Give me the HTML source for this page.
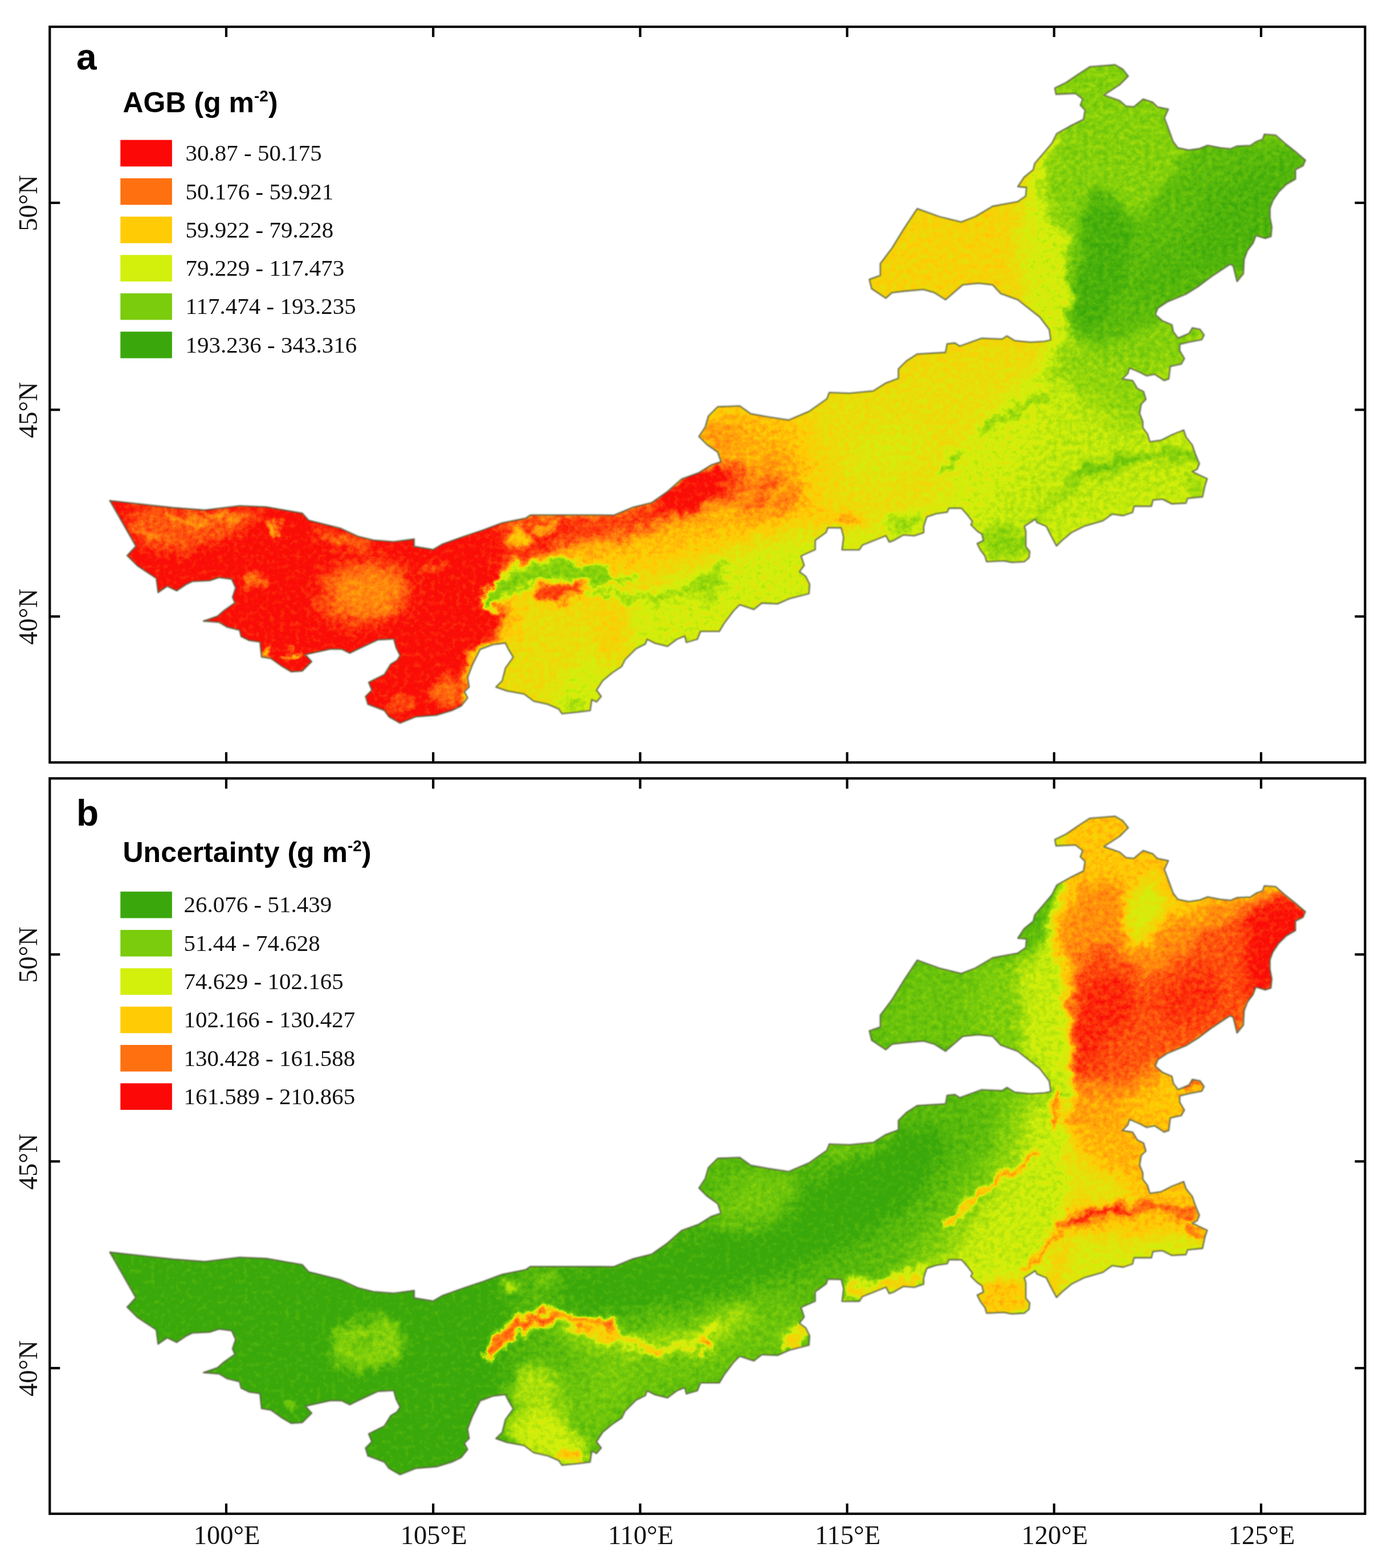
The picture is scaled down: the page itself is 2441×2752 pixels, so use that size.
<!DOCTYPE html>
<html lang="en"><head><meta charset="utf-8"><title>AGB and uncertainty maps</title>
<style>
html,body{margin:0;padding:0;background:#fff;}
body{width:2441px;height:2752px;overflow:hidden;}
svg{display:block;}
.ax{font-family:"Liberation Serif",serif;font-size:46.5px;fill:#111;}
.lg{font-family:"Liberation Serif",serif;font-size:41px;fill:#111;}
.lt{font-family:"Liberation Sans",sans-serif;font-weight:bold;font-size:50px;fill:#000;}
.sup{font-size:28px;}
.pl{font-family:"Liberation Sans",sans-serif;font-weight:bold;font-size:64px;fill:#000;}
</style></head><body>
<svg width="2441" height="2752" viewBox="0 0 2441 2752">
<defs>
<clipPath id="ca"><path d="M192.7,878.6 L304.4,891.0 L359.6,895.1 L420.3,887.7 L467.2,889.6 L530.6,900.7 L541.6,913.1 L596.8,926.9 L627.6,941.0 L655.2,947.9 L691.0,950.7 L726.9,946.0 L726.9,959.0 L760.0,964.5 L776.5,954.8 L815.0,941.0 L848.0,930.0 L881.3,917.6 L922.7,909.3 L931.0,903.8 L986.0,903.8 L1046.8,903.8 L1077.6,904.1 L1110.7,890.3 L1143.8,882.0 L1171.3,862.7 L1196.2,840.7 L1226.5,829.6 L1248.6,815.8 L1265.1,810.3 L1259.6,793.8 L1240.3,780.0 L1226.5,766.2 L1237.5,749.6 L1243.0,730.3 L1259.6,713.8 L1298.2,712.4 L1317.5,726.2 L1347.9,731.7 L1383.7,737.2 L1419.6,722.1 L1451.0,699.9 L1455.2,688.9 L1491.0,690.2 L1532.4,686.1 L1554.4,672.3 L1576.5,664.0 L1576.5,647.5 L1590.3,633.7 L1609.6,621.3 L1659.2,618.5 L1662.0,603.4 L1675.8,602.0 L1684.1,607.5 L1722.7,593.7 L1758.5,595.1 L1766.8,589.6 L1780.6,597.8 L1808.2,600.6 L1833.0,599.2 L1844.0,596.5 L1841.3,578.5 L1824.7,556.5 L1799.9,537.2 L1786.1,526.1 L1755.8,515.1 L1742.0,499.9 L1717.2,497.2 L1689.6,499.9 L1659.2,526.1 L1639.9,513.7 L1620.6,508.2 L1587.5,511.0 L1565.5,513.7 L1554.4,523.4 L1529.6,506.8 L1525.5,490.3 L1544.8,483.4 L1544.8,462.7 L1565.5,435.1 L1587.5,399.3 L1609.6,366.2 L1648.2,380.0 L1686.8,389.6 L1711.6,380.0 L1742.0,362.0 L1786.1,353.8 L1799.9,344.1 L1801.3,329.0 L1786.1,327.6 L1797.1,311.0 L1813.1,297.9 L1815.8,286.8 L1832.4,267.5 L1846.2,251.0 L1854.4,234.4 L1879.3,220.6 L1901.3,209.6 L1904.1,193.1 L1895.8,184.8 L1899.9,173.8 L1887.5,164.1 L1853.1,165.5 L1851.1,154.5 L1871.0,144.8 L1893.0,129.6 L1912.4,117.2 L1956.5,113.6 L1970.3,121.4 L1979.9,133.8 L1964.8,148.9 L1937.2,166.9 L1964.8,176.5 L1975.8,186.2 L1989.6,187.6 L2006.1,173.8 L2022.7,179.3 L2030.9,187.6 L2050.2,191.7 L2043.4,206.9 L2051.6,228.9 L2058.5,248.2 L2066.8,259.3 L2086.1,263.4 L2105.4,260.6 L2119.2,255.1 L2141.3,259.3 L2159.2,261.2 L2170.8,256.3 L2194.0,255.4 L2205.5,248.0 L2215.5,244.7 L2218.8,235.6 L2238.6,237.2 L2256.8,253.0 L2273.4,266.2 L2290.8,281.1 L2286.6,291.0 L2273.4,297.6 L2273.4,314.2 L2256.8,324.1 L2243.6,337.3 L2233.7,352.2 L2228.7,365.5 L2228.7,382.0 L2232.0,398.6 L2230.4,415.1 L2220.4,418.4 L2203.9,413.5 L2198.9,426.7 L2189.0,439.9 L2183.3,455.0 L2182.0,480.3 L2170.9,494.1 L2164.0,466.5 L2158.5,463.8 L2125.4,485.9 L2103.4,502.4 L2081.3,516.2 L2048.2,530.0 L2031.7,541.0 L2027.5,552.0 L2039.9,563.1 L2056.5,570.0 L2059.2,582.4 L2067.5,593.4 L2086.8,585.1 L2092.3,575.5 L2106.1,578.2 L2113.0,587.9 L2108.9,596.2 L2086.8,600.3 L2070.3,604.4 L2070.3,615.5 L2078.5,629.3 L2073.0,638.9 L2053.7,643.1 L2051.0,665.1 L2042.7,667.9 L2026.1,656.8 L2012.4,659.6 L1998.6,652.7 L1982.0,645.8 L1979.3,655.5 L1969.6,665.1 L1987.5,667.9 L1995.8,681.7 L2006.8,687.2 L2011.0,701.0 L2002.7,709.2 L1999.9,725.8 L2005.5,739.6 L2005.5,750.6 L2013.7,761.6 L2017.9,775.4 L2037.2,772.7 L2056.5,763.0 L2077.2,754.7 L2081.3,767.2 L2092.3,780.9 L2097.9,797.5 L2104.7,814.0 L2100.6,823.7 L2092.3,827.8 L2118.5,840.2 L2114.4,852.7 L2110.3,872.0 L2084.1,874.7 L2081.3,883.0 L2056.5,884.4 L2039.9,876.1 L2023.4,877.5 L2020.6,888.5 L1990.3,888.5 L1987.5,899.5 L1971.0,905.0 L1951.7,902.3 L1935.4,914.1 L1902.3,923.7 L1880.2,934.8 L1863.7,948.6 L1854.0,958.2 L1844.4,940.3 L1836.1,923.7 L1819.6,916.9 L1816.8,911.3 L1797.5,923.7 L1800.2,932.0 L1800.2,959.6 L1807.1,967.9 L1805.8,978.9 L1797.5,985.8 L1775.4,987.2 L1761.6,984.4 L1731.3,985.8 L1728.5,976.1 L1720.3,965.1 L1714.8,954.1 L1725.8,948.6 L1723.0,937.5 L1714.8,932.0 L1703.7,921.0 L1706.5,915.5 L1698.2,904.4 L1687.2,892.0 L1665.1,892.0 L1662.4,898.9 L1643.1,901.7 L1626.5,907.2 L1621.0,923.7 L1621.0,934.8 L1604.4,940.3 L1585.1,938.9 L1568.6,948.6 L1560.3,951.3 L1554.8,940.3 L1541.0,945.8 L1513.4,956.8 L1507.9,965.1 L1477.6,965.1 L1480.3,943.0 L1476.2,926.5 L1452.7,926.1 L1449.9,934.4 L1430.6,948.2 L1430.6,964.8 L1405.8,975.8 L1411.3,992.3 L1403.0,1003.4 L1414.0,1011.6 L1420.9,1025.4 L1419.6,1042.0 L1386.5,1050.3 L1364.4,1059.9 L1336.8,1058.5 L1323.0,1069.6 L1298.2,1061.3 L1287.2,1072.3 L1270.6,1094.4 L1262.4,1108.2 L1229.3,1108.2 L1223.7,1122.0 L1204.4,1127.5 L1201.7,1116.4 L1187.9,1122.0 L1171.3,1134.4 L1149.3,1128.9 L1135.5,1122.0 L1132.7,1130.2 L1116.2,1138.5 L1096.9,1157.8 L1090.9,1169.9 L1074.4,1180.9 L1057.8,1194.7 L1046.8,1211.3 L1055.0,1222.3 L1046.8,1232.0 L1038.5,1227.8 L1035.7,1247.1 L1013.7,1249.9 L986.1,1252.6 L980.6,1244.4 L961.3,1236.1 L936.5,1230.6 L919.9,1218.2 L889.6,1212.7 L870.3,1205.8 L881.3,1194.7 L886.8,1172.7 L900.6,1153.4 L892.3,1139.6 L886.8,1128.5 L864.7,1131.3 L842.7,1139.6 L837.2,1150.6 L828.9,1167.2 L820.6,1189.2 L823.4,1205.8 L815.1,1214.0 L820.6,1225.1 L809.6,1238.9 L793.0,1247.1 L765.5,1255.4 L729.6,1258.2 L702.0,1269.2 L682.7,1258.2 L674.5,1247.1 L645.5,1236.1 L641.4,1222.3 L652.4,1211.3 L646.9,1197.5 L674.5,1183.7 L685.5,1165.8 L696.5,1158.9 L702.0,1150.6 L695.0,1136.8 L691.0,1121.6 L663.4,1123.0 L627.6,1139.6 L613.8,1146.5 L600.0,1139.6 L580.2,1139.2 L536.1,1148.9 L547.1,1161.3 L530.6,1177.8 L511.3,1179.2 L494.7,1169.6 L475.4,1155.8 L458.9,1153.0 L456.1,1126.8 L436.8,1124.0 L423.0,1117.2 L420.3,1106.1 L398.2,1100.6 L384.4,1092.3 L356.8,1090.0 L381.7,1081.3 L392.7,1071.7 L412.0,1057.9 L407.9,1048.2 L413.4,1031.7 L406.5,1016.5 L384.4,1013.7 L367.9,1019.2 L337.5,1020.6 L326.5,1026.0 L310.0,1037.0 L293.4,1029.0 L277.4,1040.0 L274.1,1015.1 L241.0,993.0 L223.1,975.1 L238.3,958.6Z"/></clipPath>
<clipPath id="cb"><path d="M192.7,2197.6 L304.4,2210.0 L359.6,2214.1 L420.3,2206.7 L467.2,2208.6 L530.6,2219.7 L541.6,2232.1 L596.8,2245.9 L627.6,2260.0 L655.2,2266.9 L691.0,2269.7 L726.9,2265.0 L726.9,2278.0 L760.0,2283.5 L776.5,2273.8 L815.0,2260.0 L848.0,2249.0 L881.3,2236.6 L922.7,2228.3 L931.0,2222.8 L986.0,2222.8 L1046.8,2222.8 L1077.6,2223.1 L1110.7,2209.3 L1143.8,2201.0 L1171.3,2181.7 L1196.2,2159.7 L1226.5,2148.6 L1248.6,2134.8 L1265.1,2129.3 L1259.6,2112.8 L1240.3,2099.0 L1226.5,2085.2 L1237.5,2068.6 L1243.0,2049.3 L1259.6,2032.8 L1298.2,2031.4 L1317.5,2045.2 L1347.9,2050.7 L1383.7,2056.2 L1419.6,2041.1 L1451.0,2018.9 L1455.2,2007.9 L1491.0,2009.2 L1532.4,2005.1 L1554.4,1991.3 L1576.5,1983.0 L1576.5,1966.5 L1590.3,1952.7 L1609.6,1940.3 L1659.2,1937.5 L1662.0,1922.4 L1675.8,1921.0 L1684.1,1926.5 L1722.7,1912.7 L1758.5,1914.1 L1766.8,1908.6 L1780.6,1916.8 L1808.2,1919.6 L1833.0,1918.2 L1844.0,1915.5 L1841.3,1897.5 L1824.7,1875.5 L1799.9,1856.2 L1786.1,1845.1 L1755.8,1834.1 L1742.0,1818.9 L1717.2,1816.2 L1689.6,1818.9 L1659.2,1845.1 L1639.9,1832.7 L1620.6,1827.2 L1587.5,1830.0 L1565.5,1832.7 L1554.4,1842.4 L1529.6,1825.8 L1525.5,1809.3 L1544.8,1802.4 L1544.8,1781.7 L1565.5,1754.1 L1587.5,1718.3 L1609.6,1685.2 L1648.2,1699.0 L1686.8,1708.6 L1711.6,1699.0 L1742.0,1681.0 L1786.1,1672.8 L1799.9,1663.1 L1801.3,1648.0 L1786.1,1646.6 L1797.1,1630.0 L1813.1,1616.9 L1815.8,1605.8 L1832.4,1586.5 L1846.2,1570.0 L1854.4,1553.4 L1879.3,1539.6 L1901.3,1528.6 L1904.1,1512.1 L1895.8,1503.8 L1899.9,1492.8 L1887.5,1483.1 L1853.1,1484.5 L1851.1,1473.5 L1871.0,1463.8 L1893.0,1448.6 L1912.4,1436.2 L1956.5,1432.6 L1970.3,1440.4 L1979.9,1452.8 L1964.8,1467.9 L1937.2,1485.9 L1964.8,1495.5 L1975.8,1505.2 L1989.6,1506.6 L2006.1,1492.8 L2022.7,1498.3 L2030.9,1506.6 L2050.2,1510.7 L2043.4,1525.9 L2051.6,1547.9 L2058.5,1567.2 L2066.8,1578.3 L2086.1,1582.4 L2105.4,1579.6 L2119.2,1574.1 L2141.3,1578.3 L2159.2,1580.2 L2170.8,1575.3 L2194.0,1574.4 L2205.5,1567.0 L2215.5,1563.7 L2218.8,1554.6 L2238.6,1556.2 L2256.8,1572.0 L2273.4,1585.2 L2290.8,1600.1 L2286.6,1610.0 L2273.4,1616.6 L2273.4,1633.2 L2256.8,1643.1 L2243.6,1656.3 L2233.7,1671.2 L2228.7,1684.5 L2228.7,1701.0 L2232.0,1717.6 L2230.4,1734.1 L2220.4,1737.4 L2203.9,1732.5 L2198.9,1745.7 L2189.0,1758.9 L2183.3,1774.0 L2182.0,1799.3 L2170.9,1813.1 L2164.0,1785.5 L2158.5,1782.8 L2125.4,1804.9 L2103.4,1821.4 L2081.3,1835.2 L2048.2,1849.0 L2031.7,1860.0 L2027.5,1871.0 L2039.9,1882.1 L2056.5,1889.0 L2059.2,1901.4 L2067.5,1912.4 L2086.8,1904.1 L2092.3,1894.5 L2106.1,1897.2 L2113.0,1906.9 L2108.9,1915.2 L2086.8,1919.3 L2070.3,1923.4 L2070.3,1934.5 L2078.5,1948.3 L2073.0,1957.9 L2053.7,1962.1 L2051.0,1984.1 L2042.7,1986.9 L2026.1,1975.8 L2012.4,1978.6 L1998.6,1971.7 L1982.0,1964.8 L1979.3,1974.5 L1969.6,1984.1 L1987.5,1986.9 L1995.8,2000.7 L2006.8,2006.2 L2011.0,2020.0 L2002.7,2028.2 L1999.9,2044.8 L2005.5,2058.6 L2005.5,2069.6 L2013.7,2080.6 L2017.9,2094.4 L2037.2,2091.7 L2056.5,2082.0 L2077.2,2073.7 L2081.3,2086.2 L2092.3,2099.9 L2097.9,2116.5 L2104.7,2133.0 L2100.6,2142.7 L2092.3,2146.8 L2118.5,2159.2 L2114.4,2171.7 L2110.3,2191.0 L2084.1,2193.7 L2081.3,2202.0 L2056.5,2203.4 L2039.9,2195.1 L2023.4,2196.5 L2020.6,2207.5 L1990.3,2207.5 L1987.5,2218.5 L1971.0,2224.0 L1951.7,2221.3 L1935.4,2233.1 L1902.3,2242.7 L1880.2,2253.8 L1863.7,2267.6 L1854.0,2277.2 L1844.4,2259.3 L1836.1,2242.7 L1819.6,2235.9 L1816.8,2230.3 L1797.5,2242.7 L1800.2,2251.0 L1800.2,2278.6 L1807.1,2286.9 L1805.8,2297.9 L1797.5,2304.8 L1775.4,2306.2 L1761.6,2303.4 L1731.3,2304.8 L1728.5,2295.1 L1720.3,2284.1 L1714.8,2273.1 L1725.8,2267.6 L1723.0,2256.5 L1714.8,2251.0 L1703.7,2240.0 L1706.5,2234.5 L1698.2,2223.4 L1687.2,2211.0 L1665.1,2211.0 L1662.4,2217.9 L1643.1,2220.7 L1626.5,2226.2 L1621.0,2242.7 L1621.0,2253.8 L1604.4,2259.3 L1585.1,2257.9 L1568.6,2267.6 L1560.3,2270.3 L1554.8,2259.3 L1541.0,2264.8 L1513.4,2275.8 L1507.9,2284.1 L1477.6,2284.1 L1480.3,2262.0 L1476.2,2245.5 L1452.7,2245.1 L1449.9,2253.4 L1430.6,2267.2 L1430.6,2283.8 L1405.8,2294.8 L1411.3,2311.3 L1403.0,2322.4 L1414.0,2330.6 L1420.9,2344.4 L1419.6,2361.0 L1386.5,2369.3 L1364.4,2378.9 L1336.8,2377.5 L1323.0,2388.6 L1298.2,2380.3 L1287.2,2391.3 L1270.6,2413.4 L1262.4,2427.2 L1229.3,2427.2 L1223.7,2441.0 L1204.4,2446.5 L1201.7,2435.4 L1187.9,2441.0 L1171.3,2453.4 L1149.3,2447.9 L1135.5,2441.0 L1132.7,2449.2 L1116.2,2457.5 L1096.9,2476.8 L1090.9,2488.9 L1074.4,2499.9 L1057.8,2513.7 L1046.8,2530.3 L1055.0,2541.3 L1046.8,2551.0 L1038.5,2546.8 L1035.7,2566.1 L1013.7,2568.9 L986.1,2571.6 L980.6,2563.4 L961.3,2555.1 L936.5,2549.6 L919.9,2537.2 L889.6,2531.7 L870.3,2524.8 L881.3,2513.7 L886.8,2491.7 L900.6,2472.4 L892.3,2458.6 L886.8,2447.5 L864.7,2450.3 L842.7,2458.6 L837.2,2469.6 L828.9,2486.2 L820.6,2508.2 L823.4,2524.8 L815.1,2533.0 L820.6,2544.1 L809.6,2557.9 L793.0,2566.1 L765.5,2574.4 L729.6,2577.2 L702.0,2588.2 L682.7,2577.2 L674.5,2566.1 L645.5,2555.1 L641.4,2541.3 L652.4,2530.3 L646.9,2516.5 L674.5,2502.7 L685.5,2484.8 L696.5,2477.9 L702.0,2469.6 L695.0,2455.8 L691.0,2440.6 L663.4,2442.0 L627.6,2458.6 L613.8,2465.5 L600.0,2458.6 L580.2,2458.2 L536.1,2467.9 L547.1,2480.3 L530.6,2496.8 L511.3,2498.2 L494.7,2488.6 L475.4,2474.8 L458.9,2472.0 L456.1,2445.8 L436.8,2443.0 L423.0,2436.2 L420.3,2425.1 L398.2,2419.6 L384.4,2411.3 L356.8,2409.0 L381.7,2400.3 L392.7,2390.7 L412.0,2376.9 L407.9,2367.2 L413.4,2350.7 L406.5,2335.5 L384.4,2332.7 L367.9,2338.2 L337.5,2339.6 L326.5,2345.0 L310.0,2356.0 L293.4,2348.0 L277.4,2359.0 L274.1,2334.1 L241.0,2312.0 L223.1,2294.1 L238.3,2277.6Z"/></clipPath>

<filter id="b2" x="-50%" y="-50%" width="200%" height="200%"><feGaussianBlur stdDeviation="2"/></filter>
<filter id="b3" x="-50%" y="-50%" width="200%" height="200%"><feGaussianBlur stdDeviation="3"/></filter>
<filter id="b4" x="-50%" y="-50%" width="200%" height="200%"><feGaussianBlur stdDeviation="4"/></filter>
<filter id="b5" x="-50%" y="-50%" width="200%" height="200%"><feGaussianBlur stdDeviation="5"/></filter>
<filter id="b6" x="-50%" y="-50%" width="200%" height="200%"><feGaussianBlur stdDeviation="6"/></filter>
<filter id="b7" x="-50%" y="-50%" width="200%" height="200%"><feGaussianBlur stdDeviation="7"/></filter>
<filter id="b8" x="-50%" y="-50%" width="200%" height="200%"><feGaussianBlur stdDeviation="8"/></filter>
<filter id="b9" x="-50%" y="-50%" width="200%" height="200%"><feGaussianBlur stdDeviation="9"/></filter>
<filter id="b10" x="-50%" y="-50%" width="200%" height="200%"><feGaussianBlur stdDeviation="10"/></filter>
<filter id="b12" x="-50%" y="-50%" width="200%" height="200%"><feGaussianBlur stdDeviation="12"/></filter>
<filter id="b14" x="-50%" y="-50%" width="200%" height="200%"><feGaussianBlur stdDeviation="14"/></filter>
<filter id="b16" x="-50%" y="-50%" width="200%" height="200%"><feGaussianBlur stdDeviation="16"/></filter>
<filter id="b18" x="-50%" y="-50%" width="200%" height="200%"><feGaussianBlur stdDeviation="18"/></filter>
<filter id="b20" x="-50%" y="-50%" width="200%" height="200%"><feGaussianBlur stdDeviation="20"/></filter>
<filter id="b25" x="-50%" y="-50%" width="200%" height="200%"><feGaussianBlur stdDeviation="25"/></filter>
<filter id="texa" filterUnits="userSpaceOnUse" x="140" y="60" width="2210" height="1260" color-interpolation-filters="sRGB">
<feTurbulence type="fractalNoise" baseFrequency="0.035" numOctaves="4" seed="7" result="n"/>
<feDisplacementMap in="SourceGraphic" in2="n" scale="38" xChannelSelector="R" yChannelSelector="G" result="d1"/>
<feTurbulence type="fractalNoise" baseFrequency="0.11" numOctaves="3" seed="11" result="n2"/>
<feColorMatrix in="n2" type="matrix" values="1 0 0 0 0  1 0 0 0 0  1 0 0 0 0  0 0 0 0 1" result="g2"/>
<feComposite in="d1" in2="g2" operator="arithmetic" k1="0" k2="1" k3="0.21" k4="-0.105" result="v"/>
<feComponentTransfer in="v">
<feFuncR type="table" tableValues="0.984 1.000 1.000 0.824 0.478 0.227"/>
<feFuncG type="table" tableValues="0.051 0.455 0.796 0.941 0.800 0.659"/>
<feFuncB type="table" tableValues="0.031 0.063 0.020 0.047 0.047 0.047"/>
<feFuncA type="linear" slope="0" intercept="1"/>
</feComponentTransfer>
</filter>
<filter id="texb" filterUnits="userSpaceOnUse" x="140" y="1379" width="2210" height="1260" color-interpolation-filters="sRGB">
<feTurbulence type="fractalNoise" baseFrequency="0.035" numOctaves="4" seed="7" result="n"/>
<feDisplacementMap in="SourceGraphic" in2="n" scale="38" xChannelSelector="R" yChannelSelector="G" result="d1"/>
<feTurbulence type="fractalNoise" baseFrequency="0.11" numOctaves="3" seed="11" result="n2"/>
<feColorMatrix in="n2" type="matrix" values="1 0 0 0 0  1 0 0 0 0  1 0 0 0 0  0 0 0 0 1" result="g2"/>
<feComposite in="d1" in2="g2" operator="arithmetic" k1="0" k2="1" k3="0.21" k4="-0.105" result="v"/>
<feComponentTransfer in="v">
<feFuncR type="table" tableValues="0.984 1.000 1.000 0.824 0.478 0.227"/>
<feFuncG type="table" tableValues="0.051 0.455 0.796 0.941 0.800 0.659"/>
<feFuncB type="table" tableValues="0.031 0.063 0.020 0.047 0.047 0.047"/>
<feFuncA type="linear" slope="0" intercept="1"/>
</feComponentTransfer>
</filter>
<filter id="b0"><feOffset dx="0" dy="0"/></filter>
<filter id="edge" x="-5%" y="-5%" width="110%" height="110%"><feGaussianBlur stdDeviation="0.9"/></filter>
</defs>
<rect width="100%" height="100%" fill="#fff"/>

<g clip-path="url(#ca)"><g filter="url(#texa)"><rect x="100" y="50" width="2300" height="1290" fill="rgb(0,0,0)"/>
<path d="M885,900 L880,1000 L888,1090 L855,1140 L815,1215 L810,1300 L2400,1300 L2400,50 L1200,50 L1200,700 L1100,880Z" fill="rgb(114,114,114)" opacity="1" filter="url(#b10)"/>
<path d="M880,900 L1100,880 L1230,760 L1300,700 L1420,720 L1470,800 L1460,900 L1380,930 L1250,950 L1120,985 L1000,990 L885,990Z" fill="rgb(86,86,86)" opacity="0.75" filter="url(#b20)"/>
<path d="M985,1300 L1000,1200 L1040,1120 L1100,1060 L1180,1010 L1300,965 L1400,935 L1470,940 L1540,925 L1600,905 L1650,875 L1672,810 L1720,745 L1780,680 L1835,615 L1800,560 L1785,430 L1800,300 L1850,60 L2400,60 L2400,1300Z" fill="rgb(151,151,151)" opacity="1" filter="url(#b18)"/>
<path d="M1825,340 L1860,230 L1830,60 L2400,60 L2400,600 L2120,570 L2080,640 L2000,650 L1930,640 L1890,615 L1880,540 L1878,440 L1850,380Z" fill="rgb(198,198,198)" opacity="1" filter="url(#b10)"/>
<path d="M1880,600 L1980,620 L2060,640 L2060,700 L2000,760 L1950,740 L1900,700 L1860,650Z" fill="rgb(198,198,198)" opacity="0.8" filter="url(#b20)"/>
<path d="M1905,335 L1950,335 L1995,385 L2035,340 L2075,280 L2100,250 L2300,250 L2300,330 L2240,420 L2190,480 L2100,520 L2030,560 L1990,590 L1920,600 L1885,592 L1880,540 L1888,470 L1895,400Z" fill="rgb(227,227,227)" opacity="1" filter="url(#b8)"/>
<path d="M1920,345 L1960,360 L1990,410 L1975,490 L1950,550 L1905,585 L1886,572 L1886,510 L1898,430Z" fill="rgb(243,243,243)" opacity="1" filter="url(#b9)"/>
<path d="M2120,340 L2200,285 L2290,275 L2255,350 L2235,420 L2190,460 L2120,480 L2080,440Z" fill="rgb(243,243,243)" opacity="0.75" filter="url(#b16)"/>
<path d="M1990,480 L2060,420 L2120,420 L2100,490 L2040,530 L1990,540Z" fill="rgb(243,243,243)" opacity="0.5" filter="url(#b16)"/>
<ellipse cx="640" cy="1040" rx="82" ry="54" transform="rotate(-8 640 1040)" fill="rgb(49,49,49)" opacity="1" filter="url(#b18)"/>
<ellipse cx="645" cy="1036" rx="56" ry="36" transform="rotate(-8 645 1036)" fill="rgb(65,65,65)" opacity="1" filter="url(#b12)"/>
<path d="M215,890 L330,893 L420,890 L470,895 L440,925 L380,950 L300,970 L245,955Z" fill="rgb(64,64,64)" opacity="0.6" filter="url(#b12)"/>
<ellipse cx="330" cy="915" rx="40" ry="6" transform="rotate(15 330 915)" fill="rgb(114,114,114)" opacity="0.5" filter="url(#b4)"/>
<ellipse cx="260" cy="935" rx="25" ry="5" transform="rotate(30 260 935)" fill="rgb(114,114,114)" opacity="0.5" filter="url(#b4)"/>
<ellipse cx="390" cy="905" rx="30" ry="5" transform="rotate(10 390 905)" fill="rgb(114,114,114)" opacity="0.5" filter="url(#b4)"/>
<ellipse cx="600" cy="948" rx="50" ry="14" transform="rotate(12 600 948)" fill="rgb(64,64,64)" opacity="0.7" filter="url(#b8)"/>
<ellipse cx="482" cy="930" rx="7" ry="16" transform="rotate(10 482 930)" fill="rgb(114,114,114)" opacity="0.8" filter="url(#b4)"/>
<ellipse cx="444" cy="1018" rx="20" ry="11" transform="rotate(0 444 1018)" fill="rgb(64,64,64)" opacity="0.8" filter="url(#b5)"/>
<ellipse cx="758" cy="996" rx="24" ry="8" transform="rotate(-10 758 996)" fill="rgb(64,64,64)" opacity="0.6" filter="url(#b5)"/>
<ellipse cx="467" cy="1149" rx="7" ry="8" transform="rotate(0 467 1149)" fill="rgb(114,114,114)" opacity="0.8" filter="url(#b3)"/>
<ellipse cx="512" cy="1150" rx="10" ry="7" transform="rotate(0 512 1150)" fill="rgb(114,114,114)" opacity="0.8" filter="url(#b3)"/>
<ellipse cx="700" cy="1235" rx="25" ry="12" transform="rotate(-20 700 1235)" fill="rgb(64,64,64)" opacity="0.5" filter="url(#b6)"/>
<ellipse cx="780" cy="1215" rx="18" ry="22" transform="rotate(0 780 1215)" fill="rgb(64,64,64)" opacity="0.5" filter="url(#b6)"/>
<path d="M845,1140 L865,1132 L850,1165 L835,1195 L825,1190 L832,1165Z" fill="rgb(151,151,151)" opacity="0.9" filter="url(#b4)"/>
<path d="M860,925 L930,903 L1050,903 L1110,889 L1110,930 L1050,950 L980,960 L930,985 L880,1000 L860,990Z" fill="rgb(3,3,3)" opacity="0.85" filter="url(#b10)"/>
<ellipse cx="910" cy="943" rx="22" ry="18" transform="rotate(-30 910 943)" fill="rgb(114,114,114)" opacity="0.9" filter="url(#b6)"/>
<ellipse cx="960" cy="925" rx="25" ry="9" transform="rotate(-15 960 925)" fill="rgb(114,114,114)" opacity="0.7" filter="url(#b5)"/>
<ellipse cx="1020" cy="960" rx="40" ry="16" transform="rotate(-10 1020 960)" fill="rgb(86,86,86)" opacity="0.8" filter="url(#b8)"/>
<path d="M1050,900 L1111,886 L1171,858 L1226,826 L1262,808 L1300,815 L1340,840 L1330,870 L1280,890 L1230,910 L1174,925 L1120,940 L1050,955 L1000,960Z" fill="rgb(64,64,64)" opacity="0.9" filter="url(#b12)"/>
<path d="M1050,907 L1078,905 L1111,892 L1144,883 L1171,864 L1196,842 L1226,831 L1249,817 L1271,816 L1298,830 L1304,849 L1271,865 L1243,879 L1215,899 L1174,910 L1133,921 L1091,932 L1050,943 L1000,950 L1000,915Z" fill="rgb(22,22,22)" opacity="1" filter="url(#b8)"/>
<path d="M1150,880 L1171,864 L1196,842 L1226,831 L1249,817 L1271,816 L1295,832 L1290,852 L1262,866 L1235,880 L1205,898 L1170,905Z" fill="rgb(3,3,3)" opacity="1" filter="url(#b7)"/>
<ellipse cx="1350" cy="850" rx="85" ry="55" transform="rotate(-25 1350 850)" fill="rgb(64,64,64)" opacity="0.6" filter="url(#b14)"/>
<ellipse cx="1290" cy="850" rx="30" ry="16" transform="rotate(-30 1290 850)" fill="rgb(30,30,30)" opacity="0.7" filter="url(#b6)"/>
<ellipse cx="1330" cy="885" rx="22" ry="10" transform="rotate(-30 1330 885)" fill="rgb(30,30,30)" opacity="0.7" filter="url(#b5)"/>
<ellipse cx="1400" cy="850" rx="20" ry="9" transform="rotate(-30 1400 850)" fill="rgb(30,30,30)" opacity="0.6" filter="url(#b5)"/>
<ellipse cx="1260" cy="760" rx="22" ry="30" transform="rotate(10 1260 760)" fill="rgb(64,64,64)" opacity="0.6" filter="url(#b8)"/>
<ellipse cx="1345" cy="850" rx="22" ry="14" transform="rotate(-30 1345 850)" fill="rgb(22,22,22)" opacity="0.7" filter="url(#b6)"/>
<ellipse cx="1385" cy="880" rx="18" ry="10" transform="rotate(-30 1385 880)" fill="rgb(22,22,22)" opacity="0.6" filter="url(#b6)"/>
<ellipse cx="1290" cy="770" rx="30" ry="22" transform="rotate(0 1290 770)" fill="rgb(64,64,64)" opacity="0.5" filter="url(#b10)"/>
<ellipse cx="1485" cy="908" rx="30" ry="14" transform="rotate(10 1485 908)" fill="rgb(51,51,51)" opacity="0.9" filter="url(#b6)"/>
<ellipse cx="1430" cy="890" rx="30" ry="14" transform="rotate(20 1430 890)" fill="rgb(64,64,64)" opacity="0.5" filter="url(#b8)"/>
<path d="M862,1052 L882,1032 L908,1016 L940,1005 L985,1002 L1030,1005 L1060,1010" fill="none" stroke="rgb(198,198,198)" stroke-width="34" stroke-linecap="round" stroke-linejoin="round" opacity="1" filter="url(#b5)"/>
<path d="M1030,1035 L1065,1040 L1100,1048" fill="none" stroke="rgb(198,198,198)" stroke-width="12" stroke-linecap="round" stroke-linejoin="round" opacity="0.9" filter="url(#b5)"/>
<path d="M935,1034 L965,1025 L1000,1023 L1030,1030 L1025,1048 L980,1054 L945,1054Z" fill="rgb(17,17,17)" opacity="0.9" filter="url(#b6)"/>
<ellipse cx="905" cy="1095" rx="18" ry="30" transform="rotate(0 905 1095)" fill="rgb(64,64,64)" opacity="0.7" filter="url(#b8)"/>
<path d="M900,1060 L1000,1060 L1060,1080 L1100,1160 L1060,1260 L900,1260 L870,1200Z" fill="rgb(151,151,151)" opacity="0.35" filter="url(#b16)"/>
<path d="M960,1260 L980,1190 L1060,1150 L1110,1150 L1100,1200 L1060,1260Z" fill="rgb(151,151,151)" opacity="0.8" filter="url(#b14)"/>
<path d="M815,1140 L840,1141 L838,1170 L826,1200 L812,1200Z" fill="rgb(114,114,114)" opacity="0.8" filter="url(#b4)"/>
<ellipse cx="790" cy="1215" rx="22" ry="32" transform="rotate(10 790 1215)" fill="rgb(64,64,64)" opacity="0.5" filter="url(#b8)"/>
<ellipse cx="1000" cy="1240" rx="30" ry="12" transform="rotate(0 1000 1240)" fill="rgb(198,198,198)" opacity="0.6" filter="url(#b8)"/>
<path d="M1050,1005 L1075,1015 L1110,1020" fill="none" stroke="rgb(198,198,198)" stroke-width="14" stroke-linecap="round" stroke-linejoin="round" opacity="0.8" filter="url(#b5)"/>
<path d="M1100,1050 L1150,1050 L1200,1040 L1240,1020 L1265,995" fill="none" stroke="rgb(198,198,198)" stroke-width="16" stroke-linecap="round" stroke-linejoin="round" opacity="0.7" filter="url(#b6)"/>
<ellipse cx="1245" cy="1030" rx="22" ry="30" transform="rotate(20 1245 1030)" fill="rgb(198,198,198)" opacity="0.6" filter="url(#b8)"/>
<ellipse cx="1075" cy="1120" rx="30" ry="50" transform="rotate(20 1075 1120)" fill="rgb(86,86,86)" opacity="0.6" filter="url(#b14)"/>
<path d="M1400,700 L1600,640 L1800,600 L1800,700 L1700,800 L1640,900 L1500,930 L1400,900Z" fill="rgb(151,151,151)" opacity="0.4" filter="url(#b25)"/>
<ellipse cx="1560" cy="795" rx="75" ry="45" transform="rotate(-25 1560 795)" fill="rgb(151,151,151)" opacity="0.55" filter="url(#b16)"/>
<ellipse cx="1640" cy="560" rx="20" ry="25" transform="rotate(0 1640 560)" fill="rgb(151,151,151)" opacity="0.5" filter="url(#b10)"/>
<path d="M1850,620 L1960,640 L2050,640 L2070,700 L2100,800 L2110,870 L2000,900 L1900,930 L1850,960 L1800,990 L1720,990 L1700,920 L1760,860 L1820,780 L1840,700Z" fill="rgb(198,198,198)" opacity="0.28" filter="url(#b25)"/>
<path d="M1880,838 L1930,822 L1990,806 L2050,798 L2096,795" fill="none" stroke="rgb(198,198,198)" stroke-width="26" stroke-linecap="round" stroke-linejoin="round" opacity="0.9" filter="url(#b6)"/>
<path d="M1900,830 L1950,815 L2000,805" fill="none" stroke="rgb(227,227,227)" stroke-width="8" stroke-linecap="round" stroke-linejoin="round" opacity="0.7" filter="url(#b3)"/>
<path d="M1715,755 L1760,730 L1800,712 L1838,696" fill="none" stroke="rgb(198,198,198)" stroke-width="14" stroke-linecap="round" stroke-linejoin="round" opacity="0.8" filter="url(#b5)"/>
<path d="M1649,828 L1665,810 L1682,795" fill="none" stroke="rgb(198,198,198)" stroke-width="18" stroke-linecap="round" stroke-linejoin="round" opacity="0.8" filter="url(#b5)"/>
<path d="M1815,911 L1850,880 L1897,845" fill="none" stroke="rgb(198,198,198)" stroke-width="14" stroke-linecap="round" stroke-linejoin="round" opacity="0.7" filter="url(#b5)"/>
<ellipse cx="1762" cy="955" rx="42" ry="30" transform="rotate(0 1762 955)" fill="rgb(198,198,198)" opacity="0.9" filter="url(#b10)"/>
<ellipse cx="1585" cy="918" rx="34" ry="20" transform="rotate(-20 1585 918)" fill="rgb(198,198,198)" opacity="0.7" filter="url(#b8)"/>
<ellipse cx="1665" cy="905" rx="10" ry="10" transform="rotate(0 1665 905)" fill="rgb(198,198,198)" opacity="0.7" filter="url(#b5)"/>
<ellipse cx="2100" cy="850" rx="18" ry="22" transform="rotate(0 2100 850)" fill="rgb(198,198,198)" opacity="0.6" filter="url(#b8)"/>
<ellipse cx="1870" cy="640" rx="40" ry="25" transform="rotate(-30 1870 640)" fill="rgb(198,198,198)" opacity="0.6" filter="url(#b10)"/>
</g></g>
<path d="M192.7,878.6 L304.4,891.0 L359.6,895.1 L420.3,887.7 L467.2,889.6 L530.6,900.7 L541.6,913.1 L596.8,926.9 L627.6,941.0 L655.2,947.9 L691.0,950.7 L726.9,946.0 L726.9,959.0 L760.0,964.5 L776.5,954.8 L815.0,941.0 L848.0,930.0 L881.3,917.6 L922.7,909.3 L931.0,903.8 L986.0,903.8 L1046.8,903.8 L1077.6,904.1 L1110.7,890.3 L1143.8,882.0 L1171.3,862.7 L1196.2,840.7 L1226.5,829.6 L1248.6,815.8 L1265.1,810.3 L1259.6,793.8 L1240.3,780.0 L1226.5,766.2 L1237.5,749.6 L1243.0,730.3 L1259.6,713.8 L1298.2,712.4 L1317.5,726.2 L1347.9,731.7 L1383.7,737.2 L1419.6,722.1 L1451.0,699.9 L1455.2,688.9 L1491.0,690.2 L1532.4,686.1 L1554.4,672.3 L1576.5,664.0 L1576.5,647.5 L1590.3,633.7 L1609.6,621.3 L1659.2,618.5 L1662.0,603.4 L1675.8,602.0 L1684.1,607.5 L1722.7,593.7 L1758.5,595.1 L1766.8,589.6 L1780.6,597.8 L1808.2,600.6 L1833.0,599.2 L1844.0,596.5 L1841.3,578.5 L1824.7,556.5 L1799.9,537.2 L1786.1,526.1 L1755.8,515.1 L1742.0,499.9 L1717.2,497.2 L1689.6,499.9 L1659.2,526.1 L1639.9,513.7 L1620.6,508.2 L1587.5,511.0 L1565.5,513.7 L1554.4,523.4 L1529.6,506.8 L1525.5,490.3 L1544.8,483.4 L1544.8,462.7 L1565.5,435.1 L1587.5,399.3 L1609.6,366.2 L1648.2,380.0 L1686.8,389.6 L1711.6,380.0 L1742.0,362.0 L1786.1,353.8 L1799.9,344.1 L1801.3,329.0 L1786.1,327.6 L1797.1,311.0 L1813.1,297.9 L1815.8,286.8 L1832.4,267.5 L1846.2,251.0 L1854.4,234.4 L1879.3,220.6 L1901.3,209.6 L1904.1,193.1 L1895.8,184.8 L1899.9,173.8 L1887.5,164.1 L1853.1,165.5 L1851.1,154.5 L1871.0,144.8 L1893.0,129.6 L1912.4,117.2 L1956.5,113.6 L1970.3,121.4 L1979.9,133.8 L1964.8,148.9 L1937.2,166.9 L1964.8,176.5 L1975.8,186.2 L1989.6,187.6 L2006.1,173.8 L2022.7,179.3 L2030.9,187.6 L2050.2,191.7 L2043.4,206.9 L2051.6,228.9 L2058.5,248.2 L2066.8,259.3 L2086.1,263.4 L2105.4,260.6 L2119.2,255.1 L2141.3,259.3 L2159.2,261.2 L2170.8,256.3 L2194.0,255.4 L2205.5,248.0 L2215.5,244.7 L2218.8,235.6 L2238.6,237.2 L2256.8,253.0 L2273.4,266.2 L2290.8,281.1 L2286.6,291.0 L2273.4,297.6 L2273.4,314.2 L2256.8,324.1 L2243.6,337.3 L2233.7,352.2 L2228.7,365.5 L2228.7,382.0 L2232.0,398.6 L2230.4,415.1 L2220.4,418.4 L2203.9,413.5 L2198.9,426.7 L2189.0,439.9 L2183.3,455.0 L2182.0,480.3 L2170.9,494.1 L2164.0,466.5 L2158.5,463.8 L2125.4,485.9 L2103.4,502.4 L2081.3,516.2 L2048.2,530.0 L2031.7,541.0 L2027.5,552.0 L2039.9,563.1 L2056.5,570.0 L2059.2,582.4 L2067.5,593.4 L2086.8,585.1 L2092.3,575.5 L2106.1,578.2 L2113.0,587.9 L2108.9,596.2 L2086.8,600.3 L2070.3,604.4 L2070.3,615.5 L2078.5,629.3 L2073.0,638.9 L2053.7,643.1 L2051.0,665.1 L2042.7,667.9 L2026.1,656.8 L2012.4,659.6 L1998.6,652.7 L1982.0,645.8 L1979.3,655.5 L1969.6,665.1 L1987.5,667.9 L1995.8,681.7 L2006.8,687.2 L2011.0,701.0 L2002.7,709.2 L1999.9,725.8 L2005.5,739.6 L2005.5,750.6 L2013.7,761.6 L2017.9,775.4 L2037.2,772.7 L2056.5,763.0 L2077.2,754.7 L2081.3,767.2 L2092.3,780.9 L2097.9,797.5 L2104.7,814.0 L2100.6,823.7 L2092.3,827.8 L2118.5,840.2 L2114.4,852.7 L2110.3,872.0 L2084.1,874.7 L2081.3,883.0 L2056.5,884.4 L2039.9,876.1 L2023.4,877.5 L2020.6,888.5 L1990.3,888.5 L1987.5,899.5 L1971.0,905.0 L1951.7,902.3 L1935.4,914.1 L1902.3,923.7 L1880.2,934.8 L1863.7,948.6 L1854.0,958.2 L1844.4,940.3 L1836.1,923.7 L1819.6,916.9 L1816.8,911.3 L1797.5,923.7 L1800.2,932.0 L1800.2,959.6 L1807.1,967.9 L1805.8,978.9 L1797.5,985.8 L1775.4,987.2 L1761.6,984.4 L1731.3,985.8 L1728.5,976.1 L1720.3,965.1 L1714.8,954.1 L1725.8,948.6 L1723.0,937.5 L1714.8,932.0 L1703.7,921.0 L1706.5,915.5 L1698.2,904.4 L1687.2,892.0 L1665.1,892.0 L1662.4,898.9 L1643.1,901.7 L1626.5,907.2 L1621.0,923.7 L1621.0,934.8 L1604.4,940.3 L1585.1,938.9 L1568.6,948.6 L1560.3,951.3 L1554.8,940.3 L1541.0,945.8 L1513.4,956.8 L1507.9,965.1 L1477.6,965.1 L1480.3,943.0 L1476.2,926.5 L1452.7,926.1 L1449.9,934.4 L1430.6,948.2 L1430.6,964.8 L1405.8,975.8 L1411.3,992.3 L1403.0,1003.4 L1414.0,1011.6 L1420.9,1025.4 L1419.6,1042.0 L1386.5,1050.3 L1364.4,1059.9 L1336.8,1058.5 L1323.0,1069.6 L1298.2,1061.3 L1287.2,1072.3 L1270.6,1094.4 L1262.4,1108.2 L1229.3,1108.2 L1223.7,1122.0 L1204.4,1127.5 L1201.7,1116.4 L1187.9,1122.0 L1171.3,1134.4 L1149.3,1128.9 L1135.5,1122.0 L1132.7,1130.2 L1116.2,1138.5 L1096.9,1157.8 L1090.9,1169.9 L1074.4,1180.9 L1057.8,1194.7 L1046.8,1211.3 L1055.0,1222.3 L1046.8,1232.0 L1038.5,1227.8 L1035.7,1247.1 L1013.7,1249.9 L986.1,1252.6 L980.6,1244.4 L961.3,1236.1 L936.5,1230.6 L919.9,1218.2 L889.6,1212.7 L870.3,1205.8 L881.3,1194.7 L886.8,1172.7 L900.6,1153.4 L892.3,1139.6 L886.8,1128.5 L864.7,1131.3 L842.7,1139.6 L837.2,1150.6 L828.9,1167.2 L820.6,1189.2 L823.4,1205.8 L815.1,1214.0 L820.6,1225.1 L809.6,1238.9 L793.0,1247.1 L765.5,1255.4 L729.6,1258.2 L702.0,1269.2 L682.7,1258.2 L674.5,1247.1 L645.5,1236.1 L641.4,1222.3 L652.4,1211.3 L646.9,1197.5 L674.5,1183.7 L685.5,1165.8 L696.5,1158.9 L702.0,1150.6 L695.0,1136.8 L691.0,1121.6 L663.4,1123.0 L627.6,1139.6 L613.8,1146.5 L600.0,1139.6 L580.2,1139.2 L536.1,1148.9 L547.1,1161.3 L530.6,1177.8 L511.3,1179.2 L494.7,1169.6 L475.4,1155.8 L458.9,1153.0 L456.1,1126.8 L436.8,1124.0 L423.0,1117.2 L420.3,1106.1 L398.2,1100.6 L384.4,1092.3 L356.8,1090.0 L381.7,1081.3 L392.7,1071.7 L412.0,1057.9 L407.9,1048.2 L413.4,1031.7 L406.5,1016.5 L384.4,1013.7 L367.9,1019.2 L337.5,1020.6 L326.5,1026.0 L310.0,1037.0 L293.4,1029.0 L277.4,1040.0 L274.1,1015.1 L241.0,993.0 L223.1,975.1 L238.3,958.6Z" fill="none" stroke="#636b4e" stroke-width="2.3" stroke-linejoin="round" filter="url(#edge)"/>
<g clip-path="url(#cb)"><g filter="url(#texb)"><rect x="100" y="1369" width="2300" height="1290" fill="rgb(255,255,255)"/>
<path d="M900,2199 L890,2619 L2400,2619 L2400,1369 L1200,1369 L1100,2199Z" fill="rgb(228,228,228)" opacity="0.9" filter="url(#b25)"/>
<path d="M980,2229 L1110,2214 L1200,2169 L1300,2134 L1400,2079 L1500,2034 L1580,1984 L1650,1974 L1660,2024 L1600,2109 L1525,2169 L1440,2214 L1340,2249 L1220,2284 L1110,2304 L980,2304Z" fill="rgb(255,255,255)" opacity="1" filter="url(#b16)"/>
<ellipse cx="1330" cy="2109" rx="75" ry="45" transform="rotate(-20 1330 2109)" fill="rgb(198,198,198)" opacity="0.7" filter="url(#b16)"/>
<ellipse cx="1500" cy="1999" rx="60" ry="30" transform="rotate(-25 1500 1999)" fill="rgb(198,198,198)" opacity="0.5" filter="url(#b14)"/>
<path d="M1000,2319 L1100,2329 L1250,2309 L1380,2269 L1420,2319 L1380,2379 L1250,2419 L1100,2469 L1000,2419Z" fill="rgb(198,198,198)" opacity="0.5" filter="url(#b20)"/>
<path d="M1720,1919 L1760,1959 L1720,2039 L1660,2119 L1600,2199 L1540,2269 L1480,2299 L1900,2319 L1900,1919Z" fill="rgb(198,198,198)" opacity="0.9" filter="url(#b20)"/>
<path d="M1800,1929 L1790,2019 L1740,2099 L1690,2169 L1640,2229 L1600,2319 L2000,2319 L2000,1919Z" fill="rgb(155,155,155)" opacity="0.9" filter="url(#b18)"/>
<path d="M1520,1819 L1545,1779 L1590,1709 L1610,1684 L1700,1699 L1720,1819 L1640,1839 L1560,1839Z" fill="rgb(198,198,198)" opacity="0.45" filter="url(#b16)"/>
<path d="M1700,1699 L1760,1679 L1830,1649 L1850,1769 L1850,1919 L1780,1919 L1740,1839 L1700,1819Z" fill="rgb(198,198,198)" opacity="0.9" filter="url(#b18)"/>
<path d="M1790,1699 L1835,1649 L1880,1759 L1885,1919 L1820,1919 L1795,1839Z" fill="rgb(155,155,155)" opacity="0.9" filter="url(#b12)"/>
<path d="M1835,1649 L1860,1549 L1840,1379 L2400,1379 L2400,2319 L1850,2319 L1830,2279 L1840,2219 L1880,2149 L1870,2059 L1880,1969 L1885,1919 L1882,1839 L1878,1739Z" fill="rgb(100,100,100)" opacity="1" filter="url(#b10)"/>
<path d="M1880,2159 L1990,2179 L2060,2159 L2120,2179 L2120,2219 L1900,2279 L1850,2279Z" fill="rgb(155,155,155)" opacity="0.8" filter="url(#b14)"/>
<path d="M1850,2009 L1900,2019 L1960,2059 L1990,2109 L1900,2109 L1860,2079Z" fill="rgb(155,155,155)" opacity="0.7" filter="url(#b14)"/>
<path d="M1860,1619 L1900,1559 L1960,1539 L1990,1619 L2060,1619 L2130,1589 L2200,1569 L2300,1579 L2300,1659 L2250,1749 L2200,1809 L2110,1849 L2050,1879 L2000,1919 L1950,1934 L1895,1929 L1882,1899 L1878,1839 L1872,1739Z" fill="rgb(64,64,64)" opacity="0.9" filter="url(#b10)"/>
<path d="M1905,1659 L1960,1664 L2010,1719 L2060,1679 L2130,1629 L2200,1594 L2300,1589 L2300,1649 L2240,1739 L2190,1799 L2100,1834 L2030,1864 L1985,1894 L1935,1904 L1895,1894 L1888,1859 L1892,1789 L1896,1719Z" fill="rgb(36,36,36)" opacity="0.95" filter="url(#b10)"/>
<path d="M1858,1919 L1850,1944 L1845,1969" fill="none" stroke="rgb(36,36,36)" stroke-width="14" stroke-linecap="round" stroke-linejoin="round" opacity="0.8" filter="url(#b5)"/>
<ellipse cx="1930" cy="1959" rx="50" ry="25" transform="rotate(0 1930 1959)" fill="rgb(64,64,64)" opacity="0.6" filter="url(#b10)"/>
<path d="M2190,1599 L2240,1569 L2300,1589 L2290,1639 L2245,1719 L2225,1749 L2190,1739 L2180,1669Z" fill="rgb(6,6,6)" opacity="0.9" filter="url(#b12)"/>
<path d="M1900,1719 L1950,1699 L1990,1739 L1985,1799 L1950,1819 L1910,1879 L1880,1879 L1880,1789Z" fill="rgb(6,6,6)" opacity="0.6" filter="url(#b14)"/>
<ellipse cx="2090" cy="1749" rx="60" ry="40" transform="rotate(-30 2090 1749)" fill="rgb(6,6,6)" opacity="0.5" filter="url(#b16)"/>
<ellipse cx="1960" cy="2009" rx="70" ry="60" transform="rotate(0 1960 2009)" fill="rgb(85,85,85)" opacity="0.7" filter="url(#b20)"/>
<ellipse cx="2040" cy="2039" rx="40" ry="50" transform="rotate(0 2040 2039)" fill="rgb(85,85,85)" opacity="0.5" filter="url(#b16)"/>
<ellipse cx="1880" cy="1959" rx="20" ry="30" transform="rotate(0 1880 1959)" fill="rgb(64,64,64)" opacity="0.6" filter="url(#b8)"/>
<ellipse cx="1760" cy="2274" rx="40" ry="28" transform="rotate(0 1760 2274)" fill="rgb(85,85,85)" opacity="0.7" filter="url(#b10)"/>
<ellipse cx="2010" cy="1599" rx="30" ry="60" transform="rotate(15 2010 1599)" fill="rgb(155,155,155)" opacity="0.85" filter="url(#b12)"/>
<ellipse cx="1960" cy="1479" rx="50" ry="40" transform="rotate(0 1960 1479)" fill="rgb(100,100,100)" opacity="0.8" filter="url(#b16)"/>
<ellipse cx="645" cy="2359" rx="66" ry="46" transform="rotate(-10 645 2359)" fill="rgb(198,198,198)" opacity="1" filter="url(#b8)"/>
<ellipse cx="640" cy="2359" rx="30" ry="12" transform="rotate(-20 640 2359)" fill="rgb(228,228,228)" opacity="0.6" filter="url(#b6)"/>
<ellipse cx="510" cy="2469" rx="12" ry="7" transform="rotate(0 510 2469)" fill="rgb(198,198,198)" opacity="0.8" filter="url(#b3)"/>
<ellipse cx="465" cy="2467" rx="6" ry="6" transform="rotate(0 465 2467)" fill="rgb(198,198,198)" opacity="0.7" filter="url(#b3)"/>
<path d="M862,2371 L885,2344 L915,2324 L950,2312 L1000,2314 L1040,2323 L1075,2331" fill="none" stroke="rgb(36,36,36)" stroke-width="22" stroke-linecap="round" stroke-linejoin="round" opacity="0.95" filter="url(#b5)"/>
<path d="M1060,2331 L1100,2354 L1150,2372" fill="none" stroke="rgb(36,36,36)" stroke-width="14" stroke-linecap="round" stroke-linejoin="round" opacity="0.8" filter="url(#b5)"/>
<path d="M1050,2327 L1075,2333" fill="none" stroke="rgb(6,6,6)" stroke-width="6" stroke-linecap="round" stroke-linejoin="round" opacity="0.9" filter="url(#b2)"/>
<ellipse cx="898" cy="2259" rx="14" ry="14" transform="rotate(0 898 2259)" fill="rgb(155,155,155)" opacity="0.8" filter="url(#b5)"/>
<ellipse cx="960" cy="2244" rx="30" ry="10" transform="rotate(-10 960 2244)" fill="rgb(198,198,198)" opacity="0.6" filter="url(#b6)"/>
<path d="M895,2404 L950,2394 L985,2409 L1010,2449 L1000,2499 L985,2569 L900,2534 L880,2509 L900,2469Z" fill="rgb(198,198,198)" opacity="0.95" filter="url(#b10)"/>
<path d="M905,2489 L960,2469 L995,2499 L1040,2549 L1030,2569 L985,2574 L930,2549 L890,2534Z" fill="rgb(155,155,155)" opacity="0.95" filter="url(#b10)"/>
<path d="M900,2409 L950,2399 L975,2419 L960,2479 L910,2489Z" fill="rgb(155,155,155)" opacity="0.5" filter="url(#b10)"/>
<ellipse cx="1005" cy="2559" rx="22" ry="10" transform="rotate(0 1005 2559)" fill="rgb(85,85,85)" opacity="0.9" filter="url(#b5)"/>
<path d="M1010,2449 L1080,2379 L1110,2399 L1090,2479 L1050,2519 L1010,2519Z" fill="rgb(198,198,198)" opacity="0.6" filter="url(#b14)"/>
<path d="M1000,2329 L1060,2349 L1130,2364 L1200,2359 L1260,2329 L1300,2309" fill="none" stroke="rgb(155,155,155)" stroke-width="40" stroke-linecap="round" stroke-linejoin="round" opacity="0.6" filter="url(#b12)"/>
<path d="M1005,2329 L1040,2339 L1080,2354" fill="none" stroke="rgb(64,64,64)" stroke-width="12" stroke-linecap="round" stroke-linejoin="round" opacity="0.7" filter="url(#b5)"/>
<path d="M1130,2369 L1180,2369 L1230,2354 L1250,2329" fill="none" stroke="rgb(64,64,64)" stroke-width="12" stroke-linecap="round" stroke-linejoin="round" opacity="0.45" filter="url(#b6)"/>
<ellipse cx="1240" cy="2364" rx="10" ry="12" transform="rotate(0 1240 2364)" fill="rgb(36,36,36)" opacity="0.7" filter="url(#b4)"/>
<ellipse cx="1015" cy="2331" rx="12" ry="8" transform="rotate(0 1015 2331)" fill="rgb(36,36,36)" opacity="0.7" filter="url(#b4)"/>
<ellipse cx="1392" cy="2354" rx="22" ry="24" transform="rotate(0 1392 2354)" fill="rgb(100,100,100)" opacity="0.9" filter="url(#b6)"/>
<path d="M1478,2249 L1520,2254 L1570,2239 L1620,2224 L1625,2254 L1560,2274 L1480,2287Z" fill="rgb(100,100,100)" opacity="0.9" filter="url(#b8)"/>
<path d="M1715,2239 L1800,2244 L1810,2304 L1730,2307Z" fill="rgb(100,100,100)" opacity="0.9" filter="url(#b10)"/>
<path d="M1660,2149 L1700,2109 L1740,2079 L1790,2049 L1820,2019" fill="none" stroke="rgb(36,36,36)" stroke-width="10" stroke-linecap="round" stroke-linejoin="round" opacity="0.8" filter="url(#b4)"/>
<path d="M1855,2154 L1900,2139 L1950,2124 L2000,2119 L2050,2124 L2090,2134" fill="none" stroke="rgb(36,36,36)" stroke-width="20" stroke-linecap="round" stroke-linejoin="round" opacity="0.9" filter="url(#b6)"/>
<path d="M1880,2144 L1930,2127 L1980,2121" fill="none" stroke="rgb(6,6,6)" stroke-width="8" stroke-linecap="round" stroke-linejoin="round" opacity="0.9" filter="url(#b3)"/>
<path d="M1800,2229 L1830,2199 L1860,2169" fill="none" stroke="rgb(36,36,36)" stroke-width="10" stroke-linecap="round" stroke-linejoin="round" opacity="0.8" filter="url(#b4)"/>
<path d="M2090,2159 L2110,2169" fill="none" stroke="rgb(36,36,36)" stroke-width="14" stroke-linecap="round" stroke-linejoin="round" opacity="0.8" filter="url(#b5)"/>
<ellipse cx="2095" cy="1902" rx="18" ry="8" transform="rotate(-20 2095 1902)" fill="rgb(36,36,36)" opacity="0.9" filter="url(#b3)"/>
</g></g>
<path d="M192.7,2197.6 L304.4,2210.0 L359.6,2214.1 L420.3,2206.7 L467.2,2208.6 L530.6,2219.7 L541.6,2232.1 L596.8,2245.9 L627.6,2260.0 L655.2,2266.9 L691.0,2269.7 L726.9,2265.0 L726.9,2278.0 L760.0,2283.5 L776.5,2273.8 L815.0,2260.0 L848.0,2249.0 L881.3,2236.6 L922.7,2228.3 L931.0,2222.8 L986.0,2222.8 L1046.8,2222.8 L1077.6,2223.1 L1110.7,2209.3 L1143.8,2201.0 L1171.3,2181.7 L1196.2,2159.7 L1226.5,2148.6 L1248.6,2134.8 L1265.1,2129.3 L1259.6,2112.8 L1240.3,2099.0 L1226.5,2085.2 L1237.5,2068.6 L1243.0,2049.3 L1259.6,2032.8 L1298.2,2031.4 L1317.5,2045.2 L1347.9,2050.7 L1383.7,2056.2 L1419.6,2041.1 L1451.0,2018.9 L1455.2,2007.9 L1491.0,2009.2 L1532.4,2005.1 L1554.4,1991.3 L1576.5,1983.0 L1576.5,1966.5 L1590.3,1952.7 L1609.6,1940.3 L1659.2,1937.5 L1662.0,1922.4 L1675.8,1921.0 L1684.1,1926.5 L1722.7,1912.7 L1758.5,1914.1 L1766.8,1908.6 L1780.6,1916.8 L1808.2,1919.6 L1833.0,1918.2 L1844.0,1915.5 L1841.3,1897.5 L1824.7,1875.5 L1799.9,1856.2 L1786.1,1845.1 L1755.8,1834.1 L1742.0,1818.9 L1717.2,1816.2 L1689.6,1818.9 L1659.2,1845.1 L1639.9,1832.7 L1620.6,1827.2 L1587.5,1830.0 L1565.5,1832.7 L1554.4,1842.4 L1529.6,1825.8 L1525.5,1809.3 L1544.8,1802.4 L1544.8,1781.7 L1565.5,1754.1 L1587.5,1718.3 L1609.6,1685.2 L1648.2,1699.0 L1686.8,1708.6 L1711.6,1699.0 L1742.0,1681.0 L1786.1,1672.8 L1799.9,1663.1 L1801.3,1648.0 L1786.1,1646.6 L1797.1,1630.0 L1813.1,1616.9 L1815.8,1605.8 L1832.4,1586.5 L1846.2,1570.0 L1854.4,1553.4 L1879.3,1539.6 L1901.3,1528.6 L1904.1,1512.1 L1895.8,1503.8 L1899.9,1492.8 L1887.5,1483.1 L1853.1,1484.5 L1851.1,1473.5 L1871.0,1463.8 L1893.0,1448.6 L1912.4,1436.2 L1956.5,1432.6 L1970.3,1440.4 L1979.9,1452.8 L1964.8,1467.9 L1937.2,1485.9 L1964.8,1495.5 L1975.8,1505.2 L1989.6,1506.6 L2006.1,1492.8 L2022.7,1498.3 L2030.9,1506.6 L2050.2,1510.7 L2043.4,1525.9 L2051.6,1547.9 L2058.5,1567.2 L2066.8,1578.3 L2086.1,1582.4 L2105.4,1579.6 L2119.2,1574.1 L2141.3,1578.3 L2159.2,1580.2 L2170.8,1575.3 L2194.0,1574.4 L2205.5,1567.0 L2215.5,1563.7 L2218.8,1554.6 L2238.6,1556.2 L2256.8,1572.0 L2273.4,1585.2 L2290.8,1600.1 L2286.6,1610.0 L2273.4,1616.6 L2273.4,1633.2 L2256.8,1643.1 L2243.6,1656.3 L2233.7,1671.2 L2228.7,1684.5 L2228.7,1701.0 L2232.0,1717.6 L2230.4,1734.1 L2220.4,1737.4 L2203.9,1732.5 L2198.9,1745.7 L2189.0,1758.9 L2183.3,1774.0 L2182.0,1799.3 L2170.9,1813.1 L2164.0,1785.5 L2158.5,1782.8 L2125.4,1804.9 L2103.4,1821.4 L2081.3,1835.2 L2048.2,1849.0 L2031.7,1860.0 L2027.5,1871.0 L2039.9,1882.1 L2056.5,1889.0 L2059.2,1901.4 L2067.5,1912.4 L2086.8,1904.1 L2092.3,1894.5 L2106.1,1897.2 L2113.0,1906.9 L2108.9,1915.2 L2086.8,1919.3 L2070.3,1923.4 L2070.3,1934.5 L2078.5,1948.3 L2073.0,1957.9 L2053.7,1962.1 L2051.0,1984.1 L2042.7,1986.9 L2026.1,1975.8 L2012.4,1978.6 L1998.6,1971.7 L1982.0,1964.8 L1979.3,1974.5 L1969.6,1984.1 L1987.5,1986.9 L1995.8,2000.7 L2006.8,2006.2 L2011.0,2020.0 L2002.7,2028.2 L1999.9,2044.8 L2005.5,2058.6 L2005.5,2069.6 L2013.7,2080.6 L2017.9,2094.4 L2037.2,2091.7 L2056.5,2082.0 L2077.2,2073.7 L2081.3,2086.2 L2092.3,2099.9 L2097.9,2116.5 L2104.7,2133.0 L2100.6,2142.7 L2092.3,2146.8 L2118.5,2159.2 L2114.4,2171.7 L2110.3,2191.0 L2084.1,2193.7 L2081.3,2202.0 L2056.5,2203.4 L2039.9,2195.1 L2023.4,2196.5 L2020.6,2207.5 L1990.3,2207.5 L1987.5,2218.5 L1971.0,2224.0 L1951.7,2221.3 L1935.4,2233.1 L1902.3,2242.7 L1880.2,2253.8 L1863.7,2267.6 L1854.0,2277.2 L1844.4,2259.3 L1836.1,2242.7 L1819.6,2235.9 L1816.8,2230.3 L1797.5,2242.7 L1800.2,2251.0 L1800.2,2278.6 L1807.1,2286.9 L1805.8,2297.9 L1797.5,2304.8 L1775.4,2306.2 L1761.6,2303.4 L1731.3,2304.8 L1728.5,2295.1 L1720.3,2284.1 L1714.8,2273.1 L1725.8,2267.6 L1723.0,2256.5 L1714.8,2251.0 L1703.7,2240.0 L1706.5,2234.5 L1698.2,2223.4 L1687.2,2211.0 L1665.1,2211.0 L1662.4,2217.9 L1643.1,2220.7 L1626.5,2226.2 L1621.0,2242.7 L1621.0,2253.8 L1604.4,2259.3 L1585.1,2257.9 L1568.6,2267.6 L1560.3,2270.3 L1554.8,2259.3 L1541.0,2264.8 L1513.4,2275.8 L1507.9,2284.1 L1477.6,2284.1 L1480.3,2262.0 L1476.2,2245.5 L1452.7,2245.1 L1449.9,2253.4 L1430.6,2267.2 L1430.6,2283.8 L1405.8,2294.8 L1411.3,2311.3 L1403.0,2322.4 L1414.0,2330.6 L1420.9,2344.4 L1419.6,2361.0 L1386.5,2369.3 L1364.4,2378.9 L1336.8,2377.5 L1323.0,2388.6 L1298.2,2380.3 L1287.2,2391.3 L1270.6,2413.4 L1262.4,2427.2 L1229.3,2427.2 L1223.7,2441.0 L1204.4,2446.5 L1201.7,2435.4 L1187.9,2441.0 L1171.3,2453.4 L1149.3,2447.9 L1135.5,2441.0 L1132.7,2449.2 L1116.2,2457.5 L1096.9,2476.8 L1090.9,2488.9 L1074.4,2499.9 L1057.8,2513.7 L1046.8,2530.3 L1055.0,2541.3 L1046.8,2551.0 L1038.5,2546.8 L1035.7,2566.1 L1013.7,2568.9 L986.1,2571.6 L980.6,2563.4 L961.3,2555.1 L936.5,2549.6 L919.9,2537.2 L889.6,2531.7 L870.3,2524.8 L881.3,2513.7 L886.8,2491.7 L900.6,2472.4 L892.3,2458.6 L886.8,2447.5 L864.7,2450.3 L842.7,2458.6 L837.2,2469.6 L828.9,2486.2 L820.6,2508.2 L823.4,2524.8 L815.1,2533.0 L820.6,2544.1 L809.6,2557.9 L793.0,2566.1 L765.5,2574.4 L729.6,2577.2 L702.0,2588.2 L682.7,2577.2 L674.5,2566.1 L645.5,2555.1 L641.4,2541.3 L652.4,2530.3 L646.9,2516.5 L674.5,2502.7 L685.5,2484.8 L696.5,2477.9 L702.0,2469.6 L695.0,2455.8 L691.0,2440.6 L663.4,2442.0 L627.6,2458.6 L613.8,2465.5 L600.0,2458.6 L580.2,2458.2 L536.1,2467.9 L547.1,2480.3 L530.6,2496.8 L511.3,2498.2 L494.7,2488.6 L475.4,2474.8 L458.9,2472.0 L456.1,2445.8 L436.8,2443.0 L423.0,2436.2 L420.3,2425.1 L398.2,2419.6 L384.4,2411.3 L356.8,2409.0 L381.7,2400.3 L392.7,2390.7 L412.0,2376.9 L407.9,2367.2 L413.4,2350.7 L406.5,2335.5 L384.4,2332.7 L367.9,2338.2 L337.5,2339.6 L326.5,2345.0 L310.0,2356.0 L293.4,2348.0 L277.4,2359.0 L274.1,2334.1 L241.0,2312.0 L223.1,2294.1 L238.3,2277.6Z" fill="none" stroke="#636b4e" stroke-width="2.3" stroke-linejoin="round" filter="url(#edge)"/>
<rect x="87.3" y="47.0" width="2308.2" height="1291.2" fill="none" stroke="#000" stroke-width="4.2"/>
<line x1="397.0" y1="47.0" x2="397.0" y2="65.0" stroke="#000" stroke-width="4.2"/>
<line x1="397.0" y1="1338.2" x2="397.0" y2="1320.2" stroke="#000" stroke-width="4.2"/>
<line x1="760.2" y1="47.0" x2="760.2" y2="65.0" stroke="#000" stroke-width="4.2"/>
<line x1="760.2" y1="1338.2" x2="760.2" y2="1320.2" stroke="#000" stroke-width="4.2"/>
<line x1="1123.4" y1="47.0" x2="1123.4" y2="65.0" stroke="#000" stroke-width="4.2"/>
<line x1="1123.4" y1="1338.2" x2="1123.4" y2="1320.2" stroke="#000" stroke-width="4.2"/>
<line x1="1486.6" y1="47.0" x2="1486.6" y2="65.0" stroke="#000" stroke-width="4.2"/>
<line x1="1486.6" y1="1338.2" x2="1486.6" y2="1320.2" stroke="#000" stroke-width="4.2"/>
<line x1="1849.8" y1="47.0" x2="1849.8" y2="65.0" stroke="#000" stroke-width="4.2"/>
<line x1="1849.8" y1="1338.2" x2="1849.8" y2="1320.2" stroke="#000" stroke-width="4.2"/>
<line x1="2213.0" y1="47.0" x2="2213.0" y2="65.0" stroke="#000" stroke-width="4.2"/>
<line x1="2213.0" y1="1338.2" x2="2213.0" y2="1320.2" stroke="#000" stroke-width="4.2"/>
<line x1="87.3" y1="356.0" x2="105.3" y2="356.0" stroke="#000" stroke-width="4.2"/>
<line x1="2395.5" y1="356.0" x2="2377.5" y2="356.0" stroke="#000" stroke-width="4.2"/>
<line x1="87.3" y1="719.2" x2="105.3" y2="719.2" stroke="#000" stroke-width="4.2"/>
<line x1="2395.5" y1="719.2" x2="2377.5" y2="719.2" stroke="#000" stroke-width="4.2"/>
<line x1="87.3" y1="1082.0" x2="105.3" y2="1082.0" stroke="#000" stroke-width="4.2"/>
<line x1="2395.5" y1="1082.0" x2="2377.5" y2="1082.0" stroke="#000" stroke-width="4.2"/>
<rect x="87.3" y="1366.2" width="2308.2" height="1290.6000000000001" fill="none" stroke="#000" stroke-width="4.2"/>
<line x1="397.0" y1="1366.2" x2="397.0" y2="1384.2" stroke="#000" stroke-width="4.2"/>
<line x1="397.0" y1="2656.8" x2="397.0" y2="2638.8" stroke="#000" stroke-width="4.2"/>
<line x1="760.2" y1="1366.2" x2="760.2" y2="1384.2" stroke="#000" stroke-width="4.2"/>
<line x1="760.2" y1="2656.8" x2="760.2" y2="2638.8" stroke="#000" stroke-width="4.2"/>
<line x1="1123.4" y1="1366.2" x2="1123.4" y2="1384.2" stroke="#000" stroke-width="4.2"/>
<line x1="1123.4" y1="2656.8" x2="1123.4" y2="2638.8" stroke="#000" stroke-width="4.2"/>
<line x1="1486.6" y1="1366.2" x2="1486.6" y2="1384.2" stroke="#000" stroke-width="4.2"/>
<line x1="1486.6" y1="2656.8" x2="1486.6" y2="2638.8" stroke="#000" stroke-width="4.2"/>
<line x1="1849.8" y1="1366.2" x2="1849.8" y2="1384.2" stroke="#000" stroke-width="4.2"/>
<line x1="1849.8" y1="2656.8" x2="1849.8" y2="2638.8" stroke="#000" stroke-width="4.2"/>
<line x1="2213.0" y1="1366.2" x2="2213.0" y2="1384.2" stroke="#000" stroke-width="4.2"/>
<line x1="2213.0" y1="2656.8" x2="2213.0" y2="2638.8" stroke="#000" stroke-width="4.2"/>
<line x1="87.3" y1="1675.2" x2="105.3" y2="1675.2" stroke="#000" stroke-width="4.2"/>
<line x1="2395.5" y1="1675.2" x2="2377.5" y2="1675.2" stroke="#000" stroke-width="4.2"/>
<line x1="87.3" y1="2038.4" x2="105.3" y2="2038.4" stroke="#000" stroke-width="4.2"/>
<line x1="2395.5" y1="2038.4" x2="2377.5" y2="2038.4" stroke="#000" stroke-width="4.2"/>
<line x1="87.3" y1="2401.2" x2="105.3" y2="2401.2" stroke="#000" stroke-width="4.2"/>
<line x1="2395.5" y1="2401.2" x2="2377.5" y2="2401.2" stroke="#000" stroke-width="4.2"/>
<text class="ax" x="0" y="0" text-anchor="middle" transform="translate(64.5 356.5) rotate(-90)">50°N</text>
<text class="ax" x="0" y="0" text-anchor="middle" transform="translate(64.5 719.7) rotate(-90)">45°N</text>
<text class="ax" x="0" y="0" text-anchor="middle" transform="translate(64.5 1082.5) rotate(-90)">40°N</text>
<text class="ax" x="0" y="0" text-anchor="middle" transform="translate(64.5 1675.7) rotate(-90)">50°N</text>
<text class="ax" x="0" y="0" text-anchor="middle" transform="translate(64.5 2038.9) rotate(-90)">45°N</text>
<text class="ax" x="0" y="0" text-anchor="middle" transform="translate(64.5 2401.7) rotate(-90)">40°N</text>
<text class="ax" x="398.0" y="2710" text-anchor="middle">100°E</text>
<text class="ax" x="761.2" y="2710" text-anchor="middle">105°E</text>
<text class="ax" x="1124.4" y="2710" text-anchor="middle">110°E</text>
<text class="ax" x="1487.6" y="2710" text-anchor="middle">115°E</text>
<text class="ax" x="1850.8" y="2710" text-anchor="middle">120°E</text>
<text class="ax" x="2214.0" y="2710" text-anchor="middle">125°E</text>
<text class="pl" x="134" y="122.0">a</text>
<text class="lt" x="215.5" y="197.0">AGB (g m<tspan class="sup" dy="-19">-2</tspan><tspan dy="19">)</tspan></text>
<rect x="211.3" y="245.6" width="90.6" height="46.6" fill="#fc0806"/>
<text class="lg" x="325.6" y="282.2">30.87 - 50.175</text>
<rect x="211.3" y="312.9" width="90.6" height="46.6" fill="#ff7010"/>
<text class="lg" x="325.6" y="349.5">50.176 - 59.921</text>
<rect x="211.3" y="380.2" width="90.6" height="46.6" fill="#ffcb05"/>
<text class="lg" x="325.6" y="416.8">59.922 - 79.228</text>
<rect x="211.3" y="447.5" width="90.6" height="46.6" fill="#d2f00c"/>
<text class="lg" x="325.6" y="484.1">79.229 - 117.473</text>
<rect x="211.3" y="514.8" width="90.6" height="46.6" fill="#7acc0c"/>
<text class="lg" x="325.6" y="551.4">117.474 - 193.235</text>
<rect x="211.3" y="582.1" width="90.6" height="46.6" fill="#3aa80c"/>
<text class="lg" x="325.6" y="618.7">193.236 - 343.316</text>
<text class="pl" x="134" y="1449.2">b</text>
<text class="lt" x="215.5" y="1512.7">Uncertainty (g m<tspan class="sup" dy="-19">-2</tspan><tspan dy="19">)</tspan></text>
<rect x="211.3" y="1564.8" width="90.6" height="46.6" fill="#3aa80c"/>
<text class="lg" x="322.6" y="1601.4">26.076 - 51.439</text>
<rect x="211.3" y="1632.1" width="90.6" height="46.6" fill="#7acc0c"/>
<text class="lg" x="322.6" y="1668.7">51.44 - 74.628</text>
<rect x="211.3" y="1699.4" width="90.6" height="46.6" fill="#d2f00c"/>
<text class="lg" x="322.6" y="1736.0">74.629 - 102.165</text>
<rect x="211.3" y="1766.7" width="90.6" height="46.6" fill="#ffcb05"/>
<text class="lg" x="322.6" y="1803.3">102.166 - 130.427</text>
<rect x="211.3" y="1834.0" width="90.6" height="46.6" fill="#ff7010"/>
<text class="lg" x="322.6" y="1870.6">130.428 - 161.588</text>
<rect x="211.3" y="1901.3" width="90.6" height="46.6" fill="#fc0806"/>
<text class="lg" x="322.6" y="1937.9">161.589 - 210.865</text>
</svg></body></html>
